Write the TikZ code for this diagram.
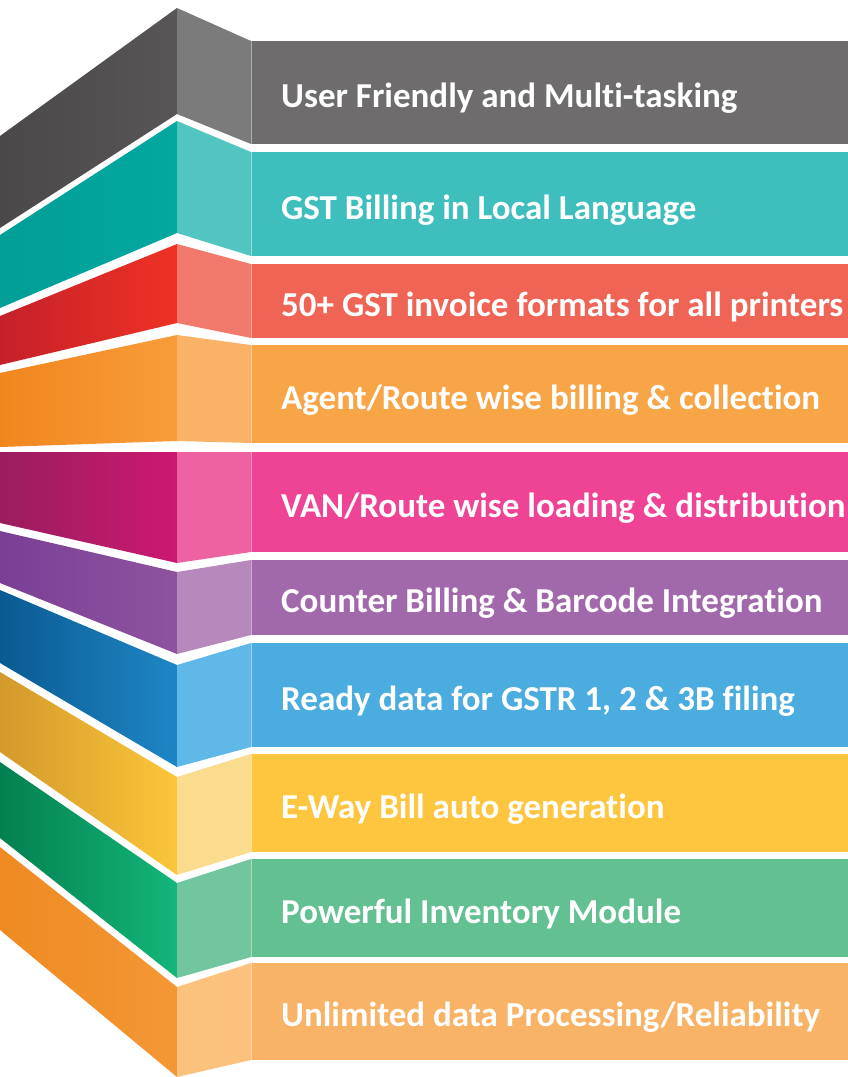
\documentclass[tikz,border=0pt]{standalone}
\usepackage{fontspec}
\setmainfont[Ligatures=NoCommon]{Carlito}
% left face (dark, light end), middle face, front face
\definecolor{dark1}{HTML}{4A4849}\definecolor{tone1}{HTML}{575556}\definecolor{pale1}{HTML}{7B7B7B}\definecolor{face1}{HTML}{6E6C6D}
\definecolor{dark2}{HTML}{009E96}\definecolor{tone2}{HTML}{03A8A0}\definecolor{pale2}{HTML}{53C5C0}\definecolor{face2}{HTML}{3EBFBD}
\definecolor{dark3}{HTML}{C5202A}\definecolor{tone3}{HTML}{EE3224}\definecolor{pale3}{HTML}{F27A6C}\definecolor{face3}{HTML}{F06455}
\definecolor{dark4}{HTML}{F0861E}\definecolor{tone4}{HTML}{F89D3A}\definecolor{pale4}{HTML}{FAB366}\definecolor{face4}{HTML}{F8A548}
\definecolor{dark5}{HTML}{9A1D5F}\definecolor{tone5}{HTML}{CC1871}\definecolor{pale5}{HTML}{EF62A2}\definecolor{face5}{HTML}{EF4396}
\definecolor{dark6}{HTML}{7A3F95}\definecolor{tone6}{HTML}{8E539F}\definecolor{pale6}{HTML}{B688BC}\definecolor{face6}{HTML}{A169AC}
\definecolor{dark7}{HTML}{0A5A92}\definecolor{tone7}{HTML}{1E86C5}\definecolor{pale7}{HTML}{60B8E9}\definecolor{face7}{HTML}{4AACDF}
\definecolor{dark8}{HTML}{D3992B}\definecolor{tone8}{HTML}{FBC63A}\definecolor{pale8}{HTML}{FBDB8D}\definecolor{face8}{HTML}{FEC53F}
\definecolor{dark9}{HTML}{03804F}\definecolor{tone9}{HTML}{14B679}\definecolor{pale9}{HTML}{71C59F}\definecolor{face9}{HTML}{63C191}
\definecolor{dark10}{HTML}{EF8A22}\definecolor{tone10}{HTML}{F39735}\definecolor{pale10}{HTML}{FBC17D}\definecolor{face10}{HTML}{F9B366}
\begin{document}
\begin{tikzpicture}[x=1pt, y=-1pt, line join=round,
	itemtext/.style={anchor=base west, inner sep=0pt, text=white, font=\bfseries\fontsize{35}{41}\selectfont}]
	\def\xa{177}
	\def\xb{251}
	\def\xmax{848}
	\def\ymax{1077}
	%
	\useasboundingbox (0,0) rectangle (\xmax,\ymax);
	\clip (0,0) rectangle (\xmax,\ymax);
	\foreach \tl/\tm/\tr/\bl/\bm/\br/\txt [count=\i] in {
		136/8/41/228/114/144/{User Friendly and Multi-tasking},
		235/121/152/308/233/256/{GST Billing in Local Language},
		316/244/264/365/323/338/{50+ GST invoice formats for all printers},
		373/335/345/447/441/443/{Agent/Route wise billing \& collection},
		452/452/452/523/563/552/{VAN/Route wise loading \& distribution},
		531/572/560/583/654/635/{Counter Billing \& Barcode Integration},
		590/665/643/663/767/747/{Ready data for GSTR 1, 2 \& 3B filing},
		672/777/754/752/875/852/{E-Way Bill auto generation},
		762/883/859/838/978/957/{Powerful Inventory Module},
		847/987/963/930/1077/1060/{Unlimited data Processing/Reliability}}{
		\shade [left color=dark\i, right color=tone\i] (0,\tl) -- (\xa,\tm) -- (\xa,\bm) -- (0,\bl) -- cycle;
		\fill [pale\i] (\xa,\tm) -- (\xb,\tr) -- (\xb,\br) -- (\xa,\bm) -- cycle;
		\fill [face\i] (\xb,\tr) rectangle (\xmax,\br);
		\draw [white, opacity=.45, line width=.8pt] (\xb,\tr) -- (\xb,\br);
		\node [itemtext] (item\i) at (281,{(\tr+\br)/2+15}) {\txt};
	}
\end{tikzpicture}
\end{document}
